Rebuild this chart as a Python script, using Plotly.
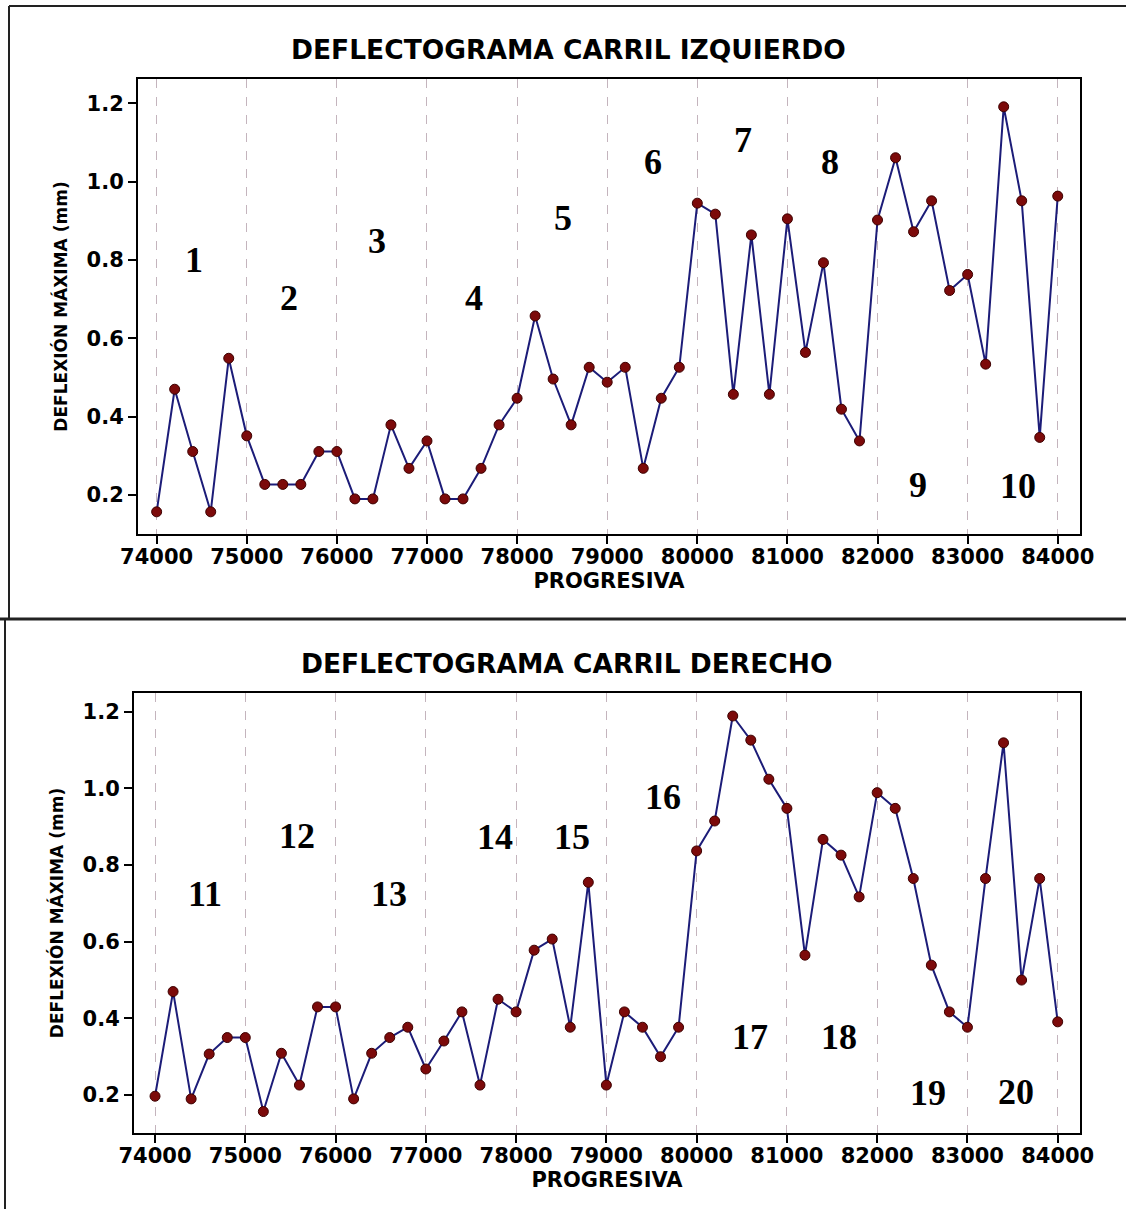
import plotly.graph_objects as go

# ---------------- data ----------------
progresiva = [74000 + 200 * i for i in range(51)]

deflexion_izquierdo = [
    0.157, 0.470, 0.311, 0.157, 0.549, 0.351, 0.227, 0.227, 0.227, 0.311,
    0.311, 0.190, 0.190, 0.379, 0.268, 0.338, 0.190, 0.190, 0.268, 0.379,
    0.447, 0.657, 0.496, 0.379, 0.526, 0.488, 0.526, 0.268, 0.447, 0.526,
    0.945, 0.917, 0.457, 0.864, 0.457, 0.905, 0.564, 0.793, 0.419, 0.338,
    0.902, 1.061, 0.872, 0.951, 0.722, 0.763, 0.534, 1.191, 0.951, 0.347,
    0.963,
]

deflexion_derecho = [
    0.197, 0.470, 0.190, 0.307, 0.350, 0.350, 0.157, 0.309, 0.226, 0.430,
    0.430, 0.190, 0.309, 0.350, 0.377, 0.268, 0.341, 0.417, 0.226, 0.450,
    0.417, 0.578, 0.607, 0.377, 0.755, 0.226, 0.417, 0.377, 0.300, 0.377,
    0.837, 0.915, 1.189, 1.126, 1.024, 0.948, 0.565, 0.867, 0.826, 0.717,
    0.989, 0.948, 0.765, 0.539, 0.417, 0.377, 0.765, 1.119, 0.500, 0.765,
    0.391,
]

x_ticks = [74000 + 1000 * i for i in range(11)]
y_ticks = [0.2, 0.4, 0.6, 0.8, 1.0, 1.2]

tramos_izq = ["1", "2", "3", "4", "5", "6", "7", "8", "9", "10"]
tramos_der = ["11", "12", "13", "14", "15", "16", "17", "18", "19", "20"]

# annotation anchor positions (data coordinates) for section numbers
tramos_izq_x = [74414, 75472, 76448, 77522, 78506, 79505, 80511, 81473, 82453, 83556]
tramos_izq_y = [0.800, 0.702, 0.848, 0.702, 0.906, 1.051, 1.106, 1.051, 0.226, 0.223]
tramos_der_x = [74554, 75570, 76596, 77766, 78623, 79624, 80591, 81577, 82567, 83538]
tramos_der_y = [0.724, 0.876, 0.724, 0.874, 0.874, 0.977, 0.352, 0.352, 0.206, 0.209]

# ---------------- figure ----------------
W, H = 1126, 1209
FONT = "DejaVu Sans"
LINE_COLOR = "#1c1c78"
MARKER_COLOR = "#7c0a0a"

# horizontal placement of the rendered paper inside the page (measured)
PAPER_LEFT, PAPER_W = 17, 1095

fig = go.Figure()

for serie, xa, ya in [(deflexion_izquierdo, "x", "y"), (deflexion_derecho, "x2", "y2")]:
    fig.add_trace(go.Scatter(
        x=progresiva, y=serie, xaxis=xa, yaxis=ya,
        mode="lines+markers",
        line=dict(color=LINE_COLOR, width=2),
        marker=dict(color=MARKER_COLOR, size=10, line=dict(color="#3c0000", width=1)),
        showlegend=False,
        hoverinfo="x+y",
    ))


def px_x(p):
    return (p - PAPER_LEFT) / PAPER_W


def px_y(p):
    return 1 - p / H


xaxis_common = dict(
    tickmode="array", tickvals=x_ticks, ticktext=[str(v) for v in x_ticks],
    ticks="outside", ticklen=8, tickwidth=2, tickcolor="black",
    ticklabelstandoff=-5,
    showline=True, linecolor="black", linewidth=2, mirror=True,
    showgrid=True, gridcolor="#c4b4bd", griddash="dash", gridwidth=1,
    zeroline=False,
    tickfont=dict(family=FONT, size=21, color="black", weight="bold"),
    title=dict(text="PROGRESIVA", standoff=2,
               font=dict(family=FONT, size=21, color="black", weight="bold")),
)
yaxis_common = dict(
    tickmode="array", tickvals=y_ticks, ticktext=[f"{v:.1f}" for v in y_ticks],
    ticks="outside", ticklen=8, tickwidth=2, tickcolor="black",
    showline=True, linecolor="black", linewidth=2, mirror=True,
    showgrid=False, zeroline=False,
    tickfont=dict(family=FONT, size=21, color="black", weight="bold"),
    title=dict(text="DEFLEXIÓN MÁXIMA (mm)", standoff=15,
               font=dict(family=FONT, size=17, color="black", weight="bold")),
)

fig.update_layout(
    width=W, height=H,
    margin=dict(l=0, r=0, t=0, b=0),
    paper_bgcolor="white", plot_bgcolor="white",
    xaxis=dict(xaxis_common, domain=[px_x(138), px_x(1080)], range=[73793, 84247], anchor="y"),
    yaxis=dict(yaxis_common, domain=[px_y(534), px_y(79)], range=[0.1004, 1.262], anchor="x"),
    xaxis2=dict(xaxis_common, domain=[px_x(134), px_x(1080)], range=[73767, 84247], anchor="y2"),
    yaxis2=dict(yaxis_common, domain=[px_y(1133), px_y(693)], range=[0.101, 1.249], anchor="x2"),
)

annotations = [
    dict(text="DEFLECTOGRAMA CARRIL IZQUIERDO", xref="paper", yref="paper",
         x=px_x(568), y=px_y(50), showarrow=False, xanchor="center", yanchor="middle",
         font=dict(family=FONT, size=26.5, color="black", weight="bold")),
    dict(text="DEFLECTOGRAMA CARRIL DERECHO", xref="paper", yref="paper",
         x=px_x(567), y=px_y(663), showarrow=False, xanchor="center", yanchor="middle",
         font=dict(family=FONT, size=26.5, color="black", weight="bold")),
]
for t, xv, yv in zip(tramos_izq, tramos_izq_x, tramos_izq_y):
    annotations.append(dict(text=t, x=xv, y=yv, xref="x", yref="y", showarrow=False,
                            font=dict(family="Liberation Serif", size=36, color="black", weight="bold")))
for t, xv, yv in zip(tramos_der, tramos_der_x, tramos_der_y):
    annotations.append(dict(text=t, x=xv, y=yv, xref="x2", yref="y2", showarrow=False,
                            font=dict(family="Liberation Serif", size=36, color="black", weight="bold")))
fig.update_layout(annotations=annotations)

shapes = [
    # top panel border
    dict(type="line", xref="paper", yref="paper", x0=px_x(9), x1=px_x(1126), y0=px_y(6), y1=px_y(6),
         line=dict(color="#222", width=2)),
    dict(type="line", xref="paper", yref="paper", x0=px_x(9), x1=px_x(9), y0=px_y(6), y1=px_y(619),
         line=dict(color="#222", width=2)),
    # separator
    dict(type="line", xref="paper", yref="paper", x0=px_x(0), x1=px_x(1126), y0=px_y(619), y1=px_y(619),
         line=dict(color="#222", width=3)),
    # bottom panel left border
    dict(type="line", xref="paper", yref="paper", x0=px_x(5), x1=px_x(5), y0=px_y(619), y1=0,
         line=dict(color="#222", width=2)),
]
fig.update_layout(shapes=shapes)

fig.write_html("out.html")
